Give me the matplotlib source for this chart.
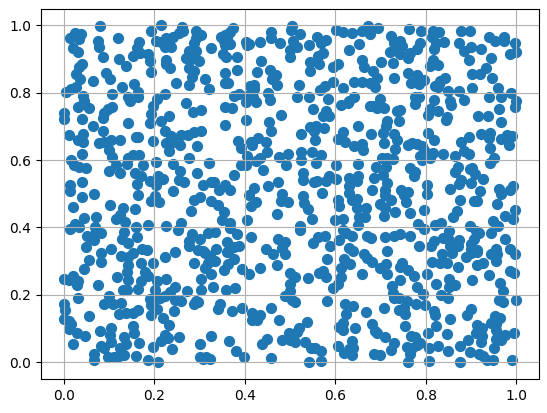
import numpy as np
import matplotlib
matplotlib.use("Agg")
import matplotlib.pyplot as plt

# values, one pair of lists per region of the plot
x_top_left = [.080,.215,.261,.264,.193,.026,.038,.029,.015,.033,.120,.075,.078,.166,.162,.293,.304,.293,.287,.255,.241,.227,.204,.216,.230,.223,.238,.021,.031,.326,.277,.293,.086,.122,.154,.169,.186,.190,.137,.225,.227,.236,.271,.282,.298,.040,.033,.278,.289,.284,.027,.036,.094,.103,.193,.064,.248,.312,.155,.128,.277,.027,.016,.006,.322,.224,.164,.164,.143,.147,.106,.206,.197,.042,.046,.031,.042,.057,.270,.107,.097,.090,.088,.286,.304,.001,.0,.040,.193,.233,.215,.190,.142,.064]
y_top_left = [.997,1.0,.994,.984,.982,.977,.973,.964,.961,.959,.961,.953,.937,.952,.934,.982,.971,.961,.947,.977,.964,.961,.954,.952,.949,.937,.937,.934,.922,.934,.924,.924,.905,.900,.908,.919,.914,.895,.880,.897,.885,.874,.902,.900,.893,.885,.877,.872,.865,.848,.855,.840,.858,.842,.860,.836,.830,.840,.827,.818,.822,.816,.811,.801,.810,.796,.803,.786,.786,.774,.795,.781,.761,.789,.776,.759,.766,.756,.768,.759,.753,.739,.726,.744,.748,.741,.721,.721,.736,.732,.717,.709,.709,.701]

x_top_mid = [.374,.368,.357,.348,.361,.354,.367,.357,.352,.359,.383,.403,.409,.404,.433,.458,.458,.478,.504,.502,.522,.507,.516,.500,.500,.542,.559,.569,.580,.601,.616,.637,.658,.673,.677,.653,.631,.436,.572,.562,.544,.564,.544,.594,.605,.660,.664,.684,.356,.382,.427,.456,.468,.461,.471,.356,.363,.420,.411,.420,.520,.642,.658,.677,.688,.596,.577,.566,.617,.387,.377,.404,.402,.419,.425,.451,.456,.515,.542,.584,.356,.371,.551,.612,.631,.642,.628,.676,.579,.572,.586,.481,.402,.453,.356,.651,.544,.557,.574]
y_top_mid = [.991,.981,.971,.964,.961,.954,.946,.942,.914,.905,.905,.952,.944,.943,.952,.979,.961,.949,.997,.987,.974,.954,.937,.927,.907,.941,.964,.947,.957,.987,.981,.976,.982,.997,.974,.944,.926,.893,.917,.910,.890,.885,.865,.875,.885,.897,.875,.863,.858,.866,.860,.866,.853,.842,.824,.830,.830,.822,.819,.811,.822,.833,.833,.828,.816,.832,.819,.808,.814,.797,.791,.789,.771,.786,.773,.799,.778,.786,.787,.780,.757,.756,.753,.763,.776,.788,.769,.761,.746,.732,.732,.735,.718,.713,.703,.700,.697,.700,.694]

x_top_right = [.695,.762,.790,.815,.829,.877,.897,.723,.730,.744,.747,.814,.823,.841,.817,.788,.780,.766,.760,.720,.736,.742,.873,.884,.899,.921,.939,.953,.973,.973,.998,1.0,.987,.895,.944,.702,.727,.816,.809,.827,.693,.729,.760,.780,.767,.784,.795,.784,.902,.919,.933,.947,.843,.832,.826,.849,.821,.829,.873,.902,.959,.988,.854,.855,.817,.884,.775,.786,.775,.699,.684,.708,.692,.939,.967,.999,.997,.962,.736,.744,.810,.804,.828,.847,.845,.915,.937,.715,.740,.967,.712]
y_top_right = [.991,.989,.984,.984,.981,.982,.984,.967,.949,.954,.939,.964,.949,.952,.931,.949,.931,.919,.902,.922,.924,.914,.949,.924,.937,.931,.964,.954,.964,.954,.947,.922,.916,.897,.902,.890,.888,.898,.878,.883,.845,.845,.858,.852,.830,.825,.837,.838,.857,.855,.872,.845,.845,.835,.816,.804,.819,.825,.804,.813,.814,.799,.776,.764,.778,.777,.786,.786,.766,.781,.761,.756,.756,.786,.786,.776,.758,.751,.746,.748,.751,.733,.745,.727,.720,.731,.731,.717,.715,.712,.700]

x_mid_left = [.012,.042,.031,.042,.086,.079,.090,.105,.125,.159,.164,.101,.197,.223,.238,.260,.275,.289,.304,.227,.241,.258,.295,.233,.040,.106,.153,.166,.142,.277,.016,.023,.035,.049,.116,.139,.101,.125,.175,.204,.241,.321,.158,.171,.257,.295,.190,.208,.219,.203,.162,.255,.266,.040,.013,.013,.326,.308,.241,.066,.040,.164,.201,.193,.210,.301,.289,.325,.020,.102,.131,.157,.281,.046,.071,.125,.116,.135,.260,.227,.186,.159,.026,.033,.013,.069,.083,.068,.051,.060,.068,.134,.162,.129,.142,.253,.284,.319,.302,.277,.277,.049,.104,.174,.185,.297]
y_mid_left = [.675,.678,.660,.655,.687,.652,.655,.660,.660,.668,.668,.631,.657,.685,.670,.675,.675,.682,.687,.650,.655,.644,.643,.626,.619,.609,.616,.616,.606,.606,.601,.586,.579,.576,.584,.588,.569,.563,.586,.594,.588,.591,.561,.552,.568,.561,.539,.552,.544,.527,.530,.540,.535,.535,.527,.507,.535,.527,.509,.499,.490,.497,.492,.479,.475,.490,.482,.477,.461,.467,.458,.456,.450,.428,.431,.438,.425,.416,.413,.404,.408,.401,.411,.401,.395,.401,.383,.378,.374,.369,.364,.387,.373,.366,.354,.393,.380,.383,.366,.359,.344,.342,.337,.336,.334,.334]

x_mid_mid = [.458,.524,.553,.555,.616,.605,.622,.679,.385,.391,.414,.416,.430,.447,.642,.660,.662,.450,.405,.433,.424,.475,.496,.491,.524,.524,.549,.569,.558,.392,.402,.602,.651,.377,.440,.529,.529,.586,.579,.602,.651,.560,.553,.631,.649,.686,.333,.357,.344,.368,.451,.473,.420,.409,.483,.481,.495,.571,.631,.631,.636,.649,.682,.529,.531,.540,.425,.414,.342,.354,.350,.367,.368,.605,.609,.647,.668,.471,.405,.549,.600,.617,.666,.653,.651,.522,.522,.382,.413,.616,.623,.638,.335,.473,.488,.562,.578,.551,.589,.609,.671,.680,.361,.387,.376,.365,.337,.448,.631,.483]
y_mid_mid = [.687,.678,.685,.660,.682,.662,.655,.678,.657,.636,.655,.645,.665,.653,.643,.648,.631,.624,.613,.606,.598,.609,.619,.586,.623,.601,.624,.614,.591,.586,.586,.586,.589,.556,.571,.561,.542,.554,.537,.545,.554,.537,.534,.547,.537,.547,.535,.527,.512,.512,.524,.535,.517,.497,.499,.479,.475,.502,.522,.502,.480,.484,.510,.494,.472,.456,.475,.463,.467,.446,.423,.413,.398,.482,.463,.458,.458,.440,.423,.425,.423,.426,.430,.431,.408,.403,.391,.380,.373,.393,.383,.374,.386,.367,.357,.373,.376,.353,.346,.363,.376,.369,.357,.344,.342,.334,.336,.336,.339,.339]

x_mid_right = [.705,.729,.736,.707,.732,.804,.817,.895,.877,.921,.942,.939,.967,.980,.991,.984,.760,.769,.780,.792,.795,.788,.792,.815,.837,.810,.865,.884,.895,.942,.950,.942,.703,.714,.727,.690,.712,.764,.777,.773,.871,.864,.897,.902,.908,.705,.715,.877,.874,.900,.927,.803,.803,.853,.745,.760,.751,.756,.710,.710,.723,.699,.710,.919,.962,.965,.986,.993,.875,.906,.913,.957,.707,.733,.764,.795,.869,.860,.997,.976,.993,.783,.797,.821,.834,.851,.948,.959,.897,.945,.975,.910,.917,.906,.899,.817,.838,.851,.873,.709,.729,.742,.766,.812,.854,.871,.786,.954,.987,.914,.899]
y_mid_right = [.680,.678,.660,.650,.634,.680,.660,.668,.653,.678,.680,.665,.662,.675,.670,.644,.645,.650,.648,.641,.629,.613,.599,.621,.618,.606,.611,.626,.619,.636,.606,.591,.606,.606,.603,.579,.579,.576,.566,.552,.579,.564,.573,.576,.558,.555,.532,.542,.530,.532,.544,.527,.499,.514,.512,.504,.497,.475,.512,.495,.480,.470,.458,.508,.514,.500,.512,.522,.481,.477,.478,.469,.435,.446,.443,.453,.448,.430,.453,.433,.425,.410,.395,.408,.413,.390,.420,.403,.405,.383,.366,.388,.383,.366,.352,.359,.369,.364,.362,.373,.376,.380,.375,.344,.344,.344,.345,.337,.337,.334,.336]

x_low_left = [.083,.127,.142,.153,.223,.245,.083,.057,.143,.046,.171,.197,.289,.308,.312,.323,.319,.312,.140,.179,.186,.171,.206,.227,.020,.001,.012,.031,.029,.118,.142,.077,.304,.325,.245,.234,.272,.304,.164,.132,.139,.201,.031,.101,.223,.212,.190,.203,.245,.260,.293,.287,.297,.0,.003,.090,.108,.126,.193,.206,.243,.164,.153,.138,.122,.193,.219,.001,.057,.012,.016,.011,.233,.153,.156,.029,.047,.105,.081,.103,.223,.230,.255,.216,.325,.133,.105,.166,.020,.138,.301,.083,.090,.197,.125,.239,.068,.097,.066,.112,.123,.134,.159,.186,.208,.301,.315,.323,.308]
y_low_left = [.323,.315,.313,.323,.313,.327,.297,.302,.287,.277,.295,.293,.295,.331,.323,.315,.295,.280,.267,.267,.255,.241,.241,.247,.255,.247,.245,.241,.229,.253,.244,.228,.247,.262,.223,.209,.212,.215,.218,.215,.215,.214,.191,.196,.196,.191,.188,.191,.186,.181,.181,.173,.178,.174,.154,.173,.173,.176,.171,.158,.153,.156,.147,.147,.144,.139,.130,.129,.138,.122,.112,.097,.111,.107,.087,.087,.077,.100,.092,.082,.082,.072,.075,.062,.079,.074,.061,.058,.055,.053,.055,.048,.043,.046,.041,.038,.023,.016,.006,.016,.018,.021,.019,.007,.001,.016,.016,.008,.008]

x_low_mid = [.335,.361,.376,.362,.355,.393,.409,.433,.462,.488,.471,.500,.511,.539,.500,.501,.490,.505,.510,.582,.572,.564,.579,.620,.633,.612,.612,.605,.595,.640,.664,.671,.682,.660,.359,.378,.345,.342,.371,.393,.582,.622,.640,.668,.624,.459,.416,.416,.433,.427,.475,.538,.520,.516,.498,.482,.501,.510,.618,.609,.618,.644,.682,.688,.365,.450,.439,.533,.546,.555,.569,.637,.606,.380,.398,.458,.620,.631,.640,.637,.542,.569,.686,.331]
y_low_mid = [.300,.327,.307,.290,.273,.277,.262,.280,.322,.320,.287,.265,.252,.250,.231,.211,.196,.186,.178,.305,.270,.265,.253,.307,.292,.280,.253,.231,.221,.330,.320,.310,.298,.262,.214,.221,.174,.158,.153,.161,.182,.173,.168,.150,.144,.161,.145,.124,.139,.125,.126,.120,.102,.089,.087,.067,.067,.060,.117,.105,.094,.102,.112,.092,.064,.070,.055,.061,.043,.043,.034,.064,.049,.034,.016,.011,.028,.038,.041,.020,.001,.004,.023,.224]

x_low_right = [.714,.814,.836,.858,.832,.847,.871,.888,.899,.913,.912,.927,.943,.956,.958,.997,.939,.986,.995,.699,.712,.715,.747,.742,.760,.773,.803,.742,.725,.780,.823,.851,.851,.865,.902,.964,.727,.730,.740,.793,.971,.834,.848,.962,.971,1.0,.758,.778,.799,.707,.751,.740,.755,.817,.821,.899,.892,.853,.952,.964,.943,.956,.913,.692,.710,.753,.823,.804,.846,.910,.925,.956,.995,.975,.925,.767,.777,.893,.922,.954,.967,.729,.723,.788,.780,.758,.769,.806,.826,.875,.950,.848,.897,.699,.766,.917,.927,.760,.806,.875,.936,.949,.990]
y_low_right = [.330,.297,.320,.325,.295,.295,.283,.313,.323,.327,.287,.293,.320,.300,.320,.320,.260,.270,.265,.280,.290,.263,.293,.283,.273,.257,.262,.245,.226,.224,.231,.247,.224,.228,.243,.236,.206,.191,.191,.201,.211,.198,.191,.186,.178,.186,.181,.174,.171,.161,.161,.156,.142,.152,.140,.159,.141,.127,.137,.130,.117,.112,.109,.087,.075,.108,.108,.088,.084,.087,.102,.095,.087,.080,.079,.077,.075,.067,.060,.069,.065,.058,.036,.058,.051,.046,.043,.043,.049,.047,.041,.034,.031,.021,.023,.023,.018,.0,.004,.001,.007,.007,.007]

x = np.concatenate([x_top_left, x_top_mid, x_top_right, x_mid_left, x_mid_mid, x_mid_right, x_low_left, x_low_mid, x_low_right])
y = np.concatenate([y_top_left, y_top_mid, y_top_right, y_mid_left, y_mid_mid, y_mid_right, y_low_left, y_low_mid, y_low_right])

fig, ax = plt.subplots(figsize=(5.47, 4.13), dpi=100)
ax.scatter(x, y, s=50)
ax.grid(True)
fig.subplots_adjust(left=41 / 547, right=539 / 547, top=1 - 8.5 / 413, bottom=1 - 379 / 413)
fig.savefig("out.png")
